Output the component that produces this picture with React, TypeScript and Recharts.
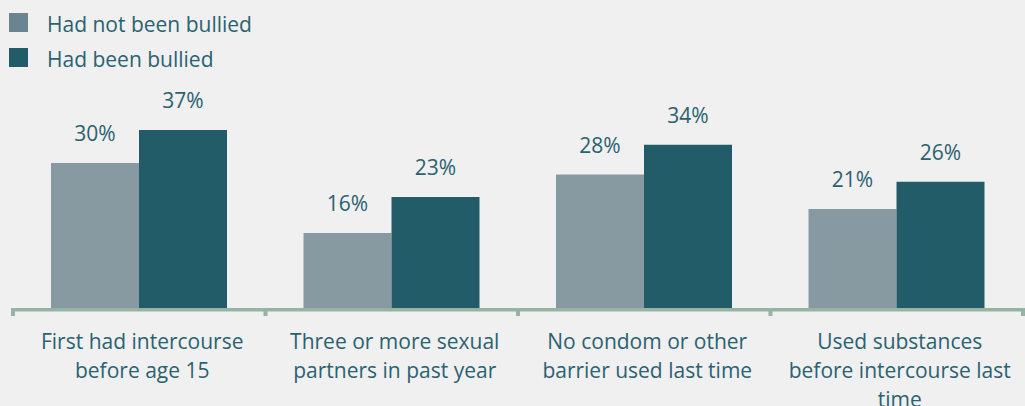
import React from 'react';
import { BarChart, Bar, XAxis, YAxis, LabelList } from 'recharts';

const categories: string[] = [
  'First had intercourse\nbefore age 15',
  'Three or more sexual\npartners in past year',
  'No condom or other\nbarrier used last time',
  'Used substances\nbefore intercourse last\ntime',
];
const notBullied: number[] = [30.2, 15.6, 27.8, 20.6];
const bullied: number[] = [37.1, 23.1, 34.0, 26.3];
const notBulliedLabels: string[] = ['30%', '16%', '28%', '21%'];
const bulliedLabels: string[] = ['37%', '23%', '34%', '26%'];
const seriesNames: string[] = ['Had not been bullied', 'Had been bullied'];

const GRAY = '#879aa1';
const TEAL = '#225c69';
const TEXT = '#2a6270';
const AXIS = '#96b3a3';
const FONT = '"Open Sans", sans-serif';

const data = categories.map((c, i) => ({
  name: c,
  notBullied: notBullied[i],
  bullied: bullied[i],
  lblA: notBulliedLabels[i],
  lblB: bulliedLabels[i],
}));

const CategoryTick = (props: any) => {
  const { x, y, payload, index } = props;
  const half = payload.offset || 0;
  const lines = String(payload.value).split('\n');
  return (
    <g>
      <line x1={x - half} x2={x - half} y1={y} y2={y + 8} stroke={AXIS} strokeWidth={4} />
      {index === categories.length - 1 && (
        <line x1={x + half} x2={x + half} y1={y} y2={y + 8} stroke={AXIS} strokeWidth={4} />
      )}
      <text x={x + 3} y={y + 41} textAnchor="middle" fill={TEXT} fontSize={21} fontFamily={FONT}>
        {lines.map((l, i) => (
          <tspan key={i} x={x + 3} dy={i === 0 ? 0 : 29}>
            {l}
          </tspan>
        ))}
      </text>
    </g>
  );
};

const LegendBox = () => (
  <svg width={300} height={80} style={{ position: 'absolute', left: 0, top: 0 }}>
    {seriesNames.map((n, i) => (
      <g key={n}>
        <rect x={9} y={13 + i * 35} width={19} height={19} fill={i === 0 ? '#6a8590' : TEAL} />
        <text x={47} y={32 + i * 35} fill={TEXT} fontSize={21} fontFamily={FONT}>
          {n}
        </text>
      </g>
    ))}
  </svg>
);

export default function App() {
  return (
    <div style={{ position: 'absolute', left: 0, top: 0, width: 1025, height: 406, background: '#f0f0f0' }}>
      <BarChart
        width={1025}
        height={406}
        data={data}
        margin={{ top: 116, right: 2, bottom: 0, left: 13 }}
        barGap={0}
      >
        <XAxis
          dataKey="name"
          interval={0}
          tickSize={0}
          tickMargin={0}
          tickLine={false}
          axisLine={{ stroke: AXIS, strokeWidth: 3.5, transform: 'translate(0,1.8)' }}
          tick={<CategoryTick />}
          height={98}
        />
        <YAxis hide domain={[0, 40]} />
        <Bar dataKey="notBullied" name={seriesNames[0]} fill={GRAY} barSize={88} isAnimationActive={false}>
          <LabelList dataKey="lblA" position="top" offset={22} fill={TEXT} fontSize={21} fontFamily={FONT} />
        </Bar>
        <Bar dataKey="bullied" name={seriesNames[1]} fill={TEAL} barSize={88} isAnimationActive={false}>
          <LabelList dataKey="lblB" position="top" offset={22} fill={TEXT} fontSize={21} fontFamily={FONT} />
        </Bar>
      </BarChart>
      <LegendBox />
    </div>
  );
}
